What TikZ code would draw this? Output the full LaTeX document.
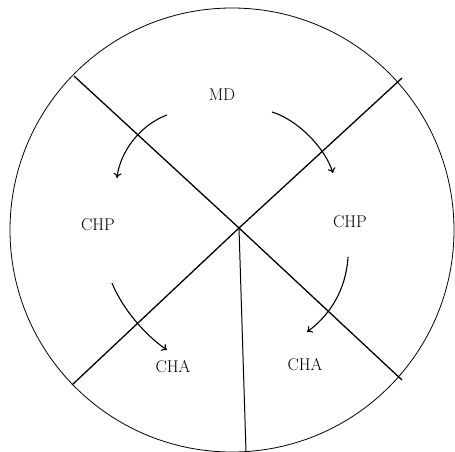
\documentclass[tikz,border=0pt]{standalone}
\usetikzlibrary{arrows.meta}
\begin{document}
\begin{tikzpicture}[x=1pt,y=-1pt,
  lab/.style={inner sep=0pt,font=\fontsize{17}{17}\selectfont},
  divider/.style={line width=1.3pt},
  flow/.style={line width=1.1pt,-{To[length=5pt,width=8pt]}}]
\useasboundingbox (0,0) rectangle (455,452);
\draw[line width=0.8pt] (232,230) circle[radius=222];
\coordinate (c) at (239,228);
\coordinate (ul) at (74,76);
\coordinate (ur) at (402,78);
\coordinate (ll) at (72,385);
\coordinate (lr) at (402,380);
\coordinate (bt) at (246,452);
\draw[divider] (ul) -- (c) -- (lr);
\draw[divider] (ur) -- (c) -- (ll);
\draw[line width=1pt] (c) -- (bt);
\node[lab] (md) at (222,95) {MD};
\node[lab] (chpl) at (98,225) {CHP};
\node[lab] (chpr) at (350,222) {CHP};
\node[lab] (chal) at (173,367) {CHA};
\node[lab] (char) at (305,365) {CHA};
\coordinate (a1s) at (167,115);
\coordinate (a1e) at (117,178);
\coordinate (a2s) at (272,112);
\coordinate (a2e) at (333,173);
\coordinate (a3s) at (112,283);
\coordinate (a3e) at (167,350);
\coordinate (a4s) at (348,257);
\coordinate (a4e) at (307,332);
\draw[flow] (a1s) .. controls (140,125) and (120,152) .. (a1e);
\draw[flow] (a2s) .. controls (298,120) and (325,148) .. (a2e);
\draw[flow] (a3s) .. controls (122,308) and (145,335) .. (a3e);
\draw[flow] (a4s) .. controls (346,290) and (330,315) .. (a4e);
\end{tikzpicture}
\end{document}
